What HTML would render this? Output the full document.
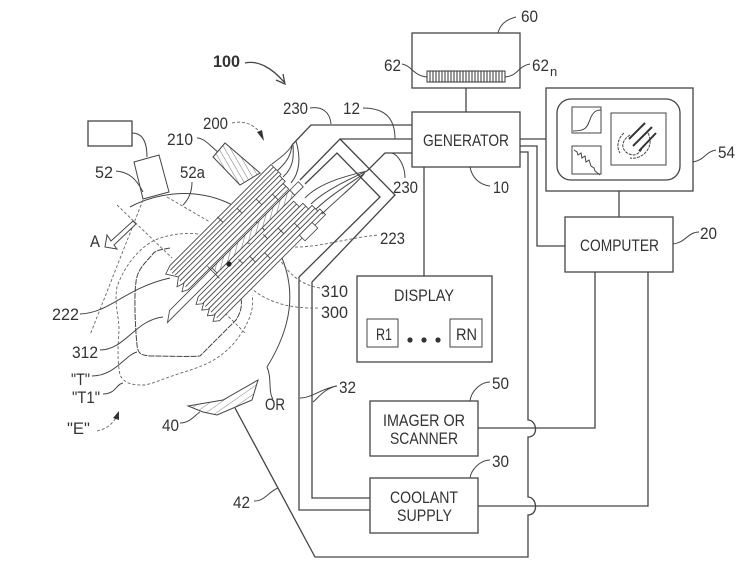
<!DOCTYPE html>
<html><head><meta charset="utf-8"><style>
html,body{margin:0;padding:0;background:#fff}
svg{display:block;filter:blur(.3px)}
text{font-family:"Liberation Sans",sans-serif;font-size:17px;fill:#333}
.b{fill:none;stroke:#444;stroke-width:1.3}
.t{fill:none;stroke:#444;stroke-width:1}
.d{fill:none;stroke:#666;stroke-width:.9;stroke-dasharray:3 2}
.n{fill:#fff;stroke:#444;stroke-width:.85}
.l{fill:none;stroke:#444;stroke-width:.85}
</style></head><body>
<svg width="745" height="573" viewBox="0 0 745 573" xmlns="http://www.w3.org/2000/svg">
<defs>
<pattern id="h" width="5" height="5" patternUnits="userSpaceOnUse" patternTransform="rotate(60)"><rect width="5" height="5" fill="#fff"/><line x1="0" y1="0" x2="0" y2="5" stroke="#777" stroke-width="1.1"/></pattern>
<pattern id="h2" width="5" height="5" patternUnits="userSpaceOnUse" patternTransform="rotate(-30)"><rect width="5" height="5" fill="#fff"/><line x1="0" y1="0" x2="0" y2="5" stroke="#666" stroke-width=".9"/></pattern>
<pattern id="h3" width="6" height="6" patternUnits="userSpaceOnUse" patternTransform="rotate(55)"><rect width="6" height="6" fill="#fff"/><line x1="0" y1="0" x2="0" y2="6" stroke="#777" stroke-width=".9"/></pattern>
</defs>

<!-- blocks -->
<rect class="b" x="412" y="33" width="108" height="55"/>
<rect x="427" y="71" width="78" height="11" fill="#fff" stroke="#333"/>
<g stroke="#333" stroke-width="1"><path d="M430 71v11M433 71v11M436 71v11M439 71v11M442 71v11M445 71v11M448 71v11M451 71v11M454 71v11M457 71v11M460 71v11M463 71v11M466 71v11M469 71v11M472 71v11M475 71v11M478 71v11M481 71v11M484 71v11M487 71v11M490 71v11M493 71v11M496 71v11M499 71v11M502 71v11"/></g>
<rect class="b" x="412" y="112" width="108" height="55"/>
<rect class="b" x="546" y="88" width="147" height="103"/>
<rect class="b" x="557" y="99" width="123" height="81" rx="14"/>
<rect class="t" x="572" y="107" width="29" height="26"/>
<path class="t" d="M573 131c14 0 14-4 18-14 3-6 6-7 10-7"/>
<rect class="t" x="572" y="146" width="29" height="28"/>
<path class="t" d="M574 150l3 2 1 3 3-2 1 5 3-2 1 6 3-2 2 6 3 2 1 3 5 4"/>
<rect class="t" x="611" y="113" width="55" height="52"/>
<path d="M630 135c-5 3-8 8-7 12 1 5 6 8 11 8 5-1 8-5 9-9M624 133c-6 5-8 14-4 20M648 133c4 8 2 15-3 20-4 4-10 6-15 5" class="t" stroke-dasharray="3 1"/>
<path d="M629 139l16-16M633 146l19-19M639 151l17-18" fill="none" stroke="#333" stroke-width="2"/>
<rect class="b" x="565" y="217" width="108" height="55"/>
<rect class="b" x="357" y="276" width="135" height="86"/>
<rect class="t" x="367" y="319" width="31" height="28"/>
<rect class="t" x="450" y="319" width="32" height="28"/>
<circle cx="410" cy="340" r="2.6" fill="#333"/><circle cx="424" cy="340" r="2.6" fill="#333"/><circle cx="438" cy="340" r="2.6" fill="#333"/>
<rect class="b" x="370" y="401" width="108" height="55"/>
<rect class="b" x="370" y="478" width="108" height="55"/>
<rect class="b" x="88" y="121" width="44" height="25"/>
<path class="t" d="M132 133c10 0 15 8 15 24"/>

<!-- OR arc -->
<path class="t" d="M130 207C150 196 175 192 195 194C235 198 268 225 282 258C295 290 293 325 267 367"/>
<polygon class="t" fill="#fff" style="fill:#fff" points="134,162 159,155 169,192 143,199"/>

<!-- connectors -->
<g class="b">
<path d="M466 88V112M520 139H546M619 191V217"/>
<path d="M520 146H537V246H565"/>
<path d="M520 152H528V420C537 420 539 437 528 437V497C537 497 539 515 528 515V557H315L235 408"/>
<path d="M424 167V276"/>
<path d="M478 428H595V272"/>
<path d="M478 506H648V272"/>
<path d="M412 125H311L292 145"/>
<path d="M412 139H340L300 180"/>
<path d="M305 184L337 153L380 197L299 277V510H370"/>
<path d="M340 139L395 195L312 282V498H370"/>
<path d="M412 153H385L367 171"/>
</g>

<!-- T1 -->
<path class="d" d="M198 234C180 232 165 236 155 240C135 250 122 272 117 287C114 305 119 315 119 330C118 345 117 360 120 375C125 385 135 385 145 385C155 383 165 378 175 375C195 368 215 365 235 342C248 325 255 310 252 295"/>
<!-- T -->
<path class="t" stroke-dasharray="6 1" d="M170 248C160 250 155 250 152 255C145 263 137 270 136 282C134 295 135 325 137 345C138 355 142 355 150 356C165 356 190 357 200 356L236 320C241 312 243 305 240 293"/>
<path class="d" d="M247 243C262 245 272 250 280 258"/>

<!-- dashed axis lines -->
<path class="d" d="M117 205L172 258M143 200L90 335M167 197L210 222M225 313L245 333"/>
<path class="d" d="M320 288C300 285 285 272 275 250"/>
<path class="d" d="M290 247C320 248 345 238 379 235"/>
<path class="d" d="M230 265C245 285 265 310 320 308"/>
<path class="t" d="M192 182C192 190 190 198 183 205"/>

<!-- A arrow -->
<path class="t" d="M133 221L136 224L114 245L117 249L105 247L107 235L111 241Z" style="fill:#fff"/>

<!-- 210 -->
<polygon points="213,157 225,143 260,173 240,185" fill="url(#h2)" stroke="#444"/>

<!-- probes -->
<g transform="translate(165 320) rotate(-45)">
<path class="n" d="M185 -35H42L33 -32L40 -21H185Z"/>
<path class="l" d="M185 -31.500H39M185 -28H38M185 -24.500H39"/>
<path class="n" d="M183 -21H40L32 -15L38 -13H183Z"/>
<path class="l" d="M183 -17H38"/>
<path class="n" d="M180 -13H40L32 -8L38 -5H180Z"/>
<path class="l" d="M180 -9H38"/>
<path class="n" d="M192 -3.500H10L0 3.500H192Z"/>
<rect x="70" y="-3.500" width="110" height="7" fill="url(#h)" stroke="#444" stroke-width=".85"/>
<path class="n" d="M175 7H40L33 11L38 15H175Z"/>
<path class="l" d="M175 11H38"/>
<path class="n" d="M180 15H40L33 19L38 23H180Z"/>
<path class="l" d="M180 19H38"/>
<path class="n" d="M185 23H40L33 27L38 31H185Z"/>
<path class="l" d="M185 27H38"/>
<path class="n" d="M188 31H40L33 35L38 39H188Z"/>
<path class="l" d="M188 35H38"/>
<path class="l" d="M68 -8V9M110 -36V-28M130 -28V-21M150 -21V-13M165 -13V-5M130 9V15M145 15V23M160 23V31M95 9V15M105 15V23M118 23V31"/>
<rect class="n" x="155" y="35" width="18" height="8"/>
</g>
<circle cx="229" cy="264" r="2.6" fill="#222"/>

<!-- fans -->
<path class="t" d="M292 145C290 150 283 156 272 164M292 145C291 155 287 162 277 171M293 145C294 158 293 168 283 177M296 141C301 158 300 172 291 183"/>
<path class="t" d="M367 171C350 175 320 182 305 198M367 171C352 178 325 190 311 204M365 173C352 182 332 194 316 209M364 174C352 188 338 198 322 214"/>

<!-- 40 -->
<polygon points="188,406 223,400 258,380 252,400 217,415 203,412" fill="url(#h3)" stroke="#444"/>

<!-- leaders -->
<g class="t">
<path d="M310 108C322 106 330 112 331 124"/>
<path d="M363 108C385 108 395 118 395 139"/>
<path d="M392 153C398 155 405 165 405 178"/>
<path d="M197 138C205 138 212 148 218 152"/>
<path d="M116 171C128 172 136 178 143 192"/>
<path d="M80 314C110 313 125 288 170 278"/>
<path d="M100 350C125 350 135 320 163 317"/>
<path d="M92 376C115 376 125 355 137 352"/>
<path d="M103 394C116 394 116 384 123 383"/>
<path d="M180 423C190 423 195 415 200 412"/>
<path d="M267 367C272 378 268 392 273 399"/>
<path d="M300 398C312 398 322 388 337 386M313 402C318 398 325 388 337 386"/>
<path d="M470 167C472 178 480 185 490 186"/>
<path d="M498 33C500 25 505 20 516 17"/>
<path d="M402 64C412 66 414 76 427 77"/>
<path d="M505 77C518 76 518 66 530 64"/>
<path d="M693 162C705 160 705 152 716 150"/>
<path d="M673 244C685 243 688 232 699 232"/>
<path d="M470 401C471 392 480 382 490 382"/>
<path d="M470 478C471 470 480 460 490 460"/>
<path d="M254 501C265 501 268 492 278 488"/>
</g>

<!-- 100 arrow, 200 arrow, E arrow -->
<path class="b" d="M245 63C258 60 272 68 284 82M276 80L285 84L283 74" stroke-width="1.6"/>
<path class="d" d="M232 123C245 120 255 125 262 135"/>
<path fill="#333" d="M257 132L264 141L262 130Z"/>
<path class="d" d="M97 431C105 429 112 426 118 414"/>
<path fill="#333" d="M113 418L119 411L119 420Z"/>

<!-- text labels -->
<g>
<text x="423" y="146" textLength="86" lengthAdjust="spacingAndGlyphs">GENERATOR</text>
<text x="580" y="251" textLength="79" lengthAdjust="spacingAndGlyphs">COMPUTER</text>
<text x="394" y="301" textLength="60" lengthAdjust="spacingAndGlyphs">DISPLAY</text>
<text x="376" y="340" textLength="16" lengthAdjust="spacingAndGlyphs">R1</text>
<text x="456" y="340" textLength="21" lengthAdjust="spacingAndGlyphs">RN</text>
<text x="383" y="426" textLength="82" lengthAdjust="spacingAndGlyphs">IMAGER OR</text>
<text x="390" y="444" textLength="68" lengthAdjust="spacingAndGlyphs">SCANNER</text>
<text x="390" y="503" textLength="68" lengthAdjust="spacingAndGlyphs">COOLANT</text>
<text x="397" y="521" textLength="55" lengthAdjust="spacingAndGlyphs">SUPPLY</text>
<text x="213" y="67" font-weight="bold" textLength="27" lengthAdjust="spacingAndGlyphs">100</text>
<text x="521" y="22" textLength="17" lengthAdjust="spacingAndGlyphs">60</text>
<text x="384" y="71" textLength="17" lengthAdjust="spacingAndGlyphs">62</text>
<text x="532" y="71" textLength="17" lengthAdjust="spacingAndGlyphs">62</text><text x="550" y="76" style="font-size:13px">n</text>
<text x="283" y="114" textLength="25" lengthAdjust="spacingAndGlyphs">230</text>
<text x="343" y="114" textLength="17" lengthAdjust="spacingAndGlyphs">12</text>
<text x="203" y="129" textLength="25" lengthAdjust="spacingAndGlyphs">200</text>
<text x="167" y="145" textLength="26" lengthAdjust="spacingAndGlyphs">210</text>
<text x="95" y="178" textLength="18" lengthAdjust="spacingAndGlyphs">52</text>
<text x="180" y="178" textLength="25" lengthAdjust="spacingAndGlyphs">52a</text>
<text x="90" y="247" textLength="10" lengthAdjust="spacingAndGlyphs">A</text>
<text x="52" y="320" textLength="27" lengthAdjust="spacingAndGlyphs">222</text>
<text x="72" y="358" textLength="26" lengthAdjust="spacingAndGlyphs">312</text>
<text x="71" y="385" textLength="19" lengthAdjust="spacingAndGlyphs">"T"</text>
<text x="72" y="403" textLength="28" lengthAdjust="spacingAndGlyphs">"T1"</text>
<text x="67" y="434" textLength="23" lengthAdjust="spacingAndGlyphs">"E"</text>
<text x="162" y="431" textLength="17" lengthAdjust="spacingAndGlyphs">40</text>
<text x="265" y="410" textLength="20" lengthAdjust="spacingAndGlyphs">OR</text>
<text x="339" y="393" textLength="17" lengthAdjust="spacingAndGlyphs">32</text>
<text x="321" y="297" textLength="27" lengthAdjust="spacingAndGlyphs">310</text>
<text x="321" y="318" textLength="27" lengthAdjust="spacingAndGlyphs">300</text>
<text x="380" y="244" textLength="25" lengthAdjust="spacingAndGlyphs">223</text>
<text x="393" y="193" textLength="25" lengthAdjust="spacingAndGlyphs">230</text>
<text x="493" y="193" textLength="16" lengthAdjust="spacingAndGlyphs">10</text>
<text x="718" y="158" textLength="17" lengthAdjust="spacingAndGlyphs">54</text>
<text x="700" y="239" textLength="17" lengthAdjust="spacingAndGlyphs">20</text>
<text x="492" y="389" textLength="17" lengthAdjust="spacingAndGlyphs">50</text>
<text x="492" y="467" textLength="17" lengthAdjust="spacingAndGlyphs">30</text>
<text x="233" y="508" textLength="17" lengthAdjust="spacingAndGlyphs">42</text>
</g>
</svg>
</body></html>
